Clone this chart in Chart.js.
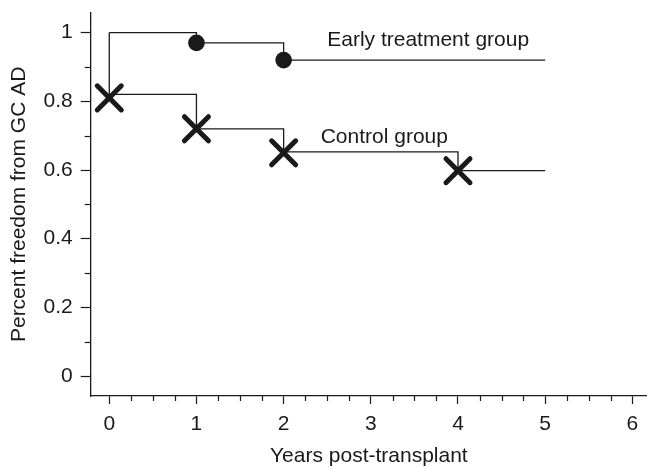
<!DOCTYPE html>
<html>
<head>
<meta charset="utf-8">
<script src="https://cdn.jsdelivr.net/npm/chart.js@4/dist/chart.umd.min.js"></script>
<style>
  html, body { margin: 0; padding: 0; background: #fff; overflow: hidden; }
  canvas { display: block; }
</style>
</head>
<body>
<canvas id="c" width="647" height="467" style="width:647px;height:467px"></canvas>
<script>
// ---- data ----
const earlyX = [0, 1, 2, 5];
const earlyY = [1.0, 0.97, 0.92, 0.92];
const earlyEventX = [1, 2];
const earlyEventY = [0.97, 0.92];

const controlX = [0, 0, 1, 2, 4, 5];
const controlY = [1.0, 0.82, 0.72, 0.653, 0.598, 0.598];
const controlEventX = [0, 1, 2, 4];
const controlEventY = [0.81, 0.72, 0.65, 0.598];

const xTickValues = [0, 1, 2, 3, 4, 5, 6];
const xTickLabels = ['0', '1', '2', '3', '4', '5', '6'];
const yTickValues = [0, 0.2, 0.4, 0.6, 0.8, 1];
const yTickLabels = ['0', '0.2', '0.4', '0.6', '0.8', '1'];
const xMinorTicks = [0.25, 0.5, 0.75, 1.25, 1.5, 1.75, 2.25, 2.5, 2.75, 3.25, 3.5, 3.75, 4.25, 4.5, 4.75, 5.25, 5.5, 5.75];
const yMinorTicks = [0.1, 0.3, 0.5, 0.7, 0.9];

const seriesNames = ['Early treatment group', 'Control group'];
const xTitle = 'Years post-transplant';
const yTitle = 'Percent freedom from GC AD';

// text annotations (data coordinates of label baseline-left)
const noteText = seriesNames;
const noteX = [2.5, 2.425];
const noteY = [0.962, 0.68];

const INK = '#1a1a1a';
const FONT = '"Liberation Sans", Arial, Helvetica, sans-serif';

const pts = (xs, ys) => xs.map((x, i) => ({ x: x, y: ys[i] }));

const extras = {
  id: 'extras',
  beforeDatasetsDraw(chart) {
    chart.ctx.lineCap = 'round';
  },
  afterDraw(chart) {
    const ctx = chart.ctx;
    const xs = chart.scales.x, ys = chart.scales.y;
    ctx.save();
    ctx.strokeStyle = INK;
    ctx.lineWidth = 1.2;
    ctx.lineCap = 'butt';
    xMinorTicks.forEach(v => {
      if (v < xs.min || v > xs.max) return;
      const px = Math.round(xs.getPixelForValue(v)) + 0.5;
      ctx.beginPath();
      ctx.moveTo(px, xs.top);
      ctx.lineTo(px, xs.top + 5);
      ctx.stroke();
    });
    yMinorTicks.forEach(v => {
      const py = Math.round(ys.getPixelForValue(v)) + 0.5;
      ctx.beginPath();
      ctx.moveTo(ys.right, py);
      ctx.lineTo(ys.right - 6, py);
      ctx.stroke();
    });
    ctx.fillStyle = INK;
    ctx.font = '21px ' + FONT;
    ctx.textAlign = 'left';
    ctx.textBaseline = 'alphabetic';
    noteText.forEach((t, i) => {
      ctx.fillText(t, xs.getPixelForValue(noteX[i]), ys.getPixelForValue(noteY[i]));
    });
    ctx.restore();
  }
};

const zeroPad = s => { s.paddingLeft = 0; s.paddingRight = 0; s.paddingTop = 0; s.paddingBottom = 0; };

new Chart(document.getElementById('c'), {
  type: 'scatter',
  data: {
    datasets: [
      {
        label: seriesNames[1] + ' events',
        data: pts(controlEventX, controlEventY),
        showLine: false,
        pointStyle: 'crossRot',
        pointRadius: 17,
        pointBorderWidth: 5,
        pointBorderColor: INK,
        pointBackgroundColor: INK,
        clip: false
      },
      {
        label: seriesNames[0] + ' events',
        data: pts(earlyEventX, earlyEventY),
        showLine: false,
        pointStyle: 'circle',
        pointRadius: 8.3,
        pointBorderWidth: 0,
        pointBackgroundColor: INK,
        pointBorderColor: INK,
        clip: false
      },
      {
        label: seriesNames[0],
        data: pts(earlyX, earlyY),
        showLine: true,
        stepped: 'before',
        borderColor: INK,
        borderWidth: 1.3,
        pointRadius: 0,
        fill: false,
        clip: false
      },
      {
        label: seriesNames[1],
        data: pts(controlX, controlY),
        showLine: true,
        stepped: 'before',
        borderColor: INK,
        borderWidth: 1.3,
        pointRadius: 0,
        fill: false,
        clip: false
      }
    ]
  },
  options: {
    responsive: false,
    animation: false,
    devicePixelRatio: 1,
    events: [],
    layout: { autoPadding: false, padding: { top: 12.7, right: 0, bottom: 0, left: 0 } },
    plugins: { legend: { display: false }, tooltip: { enabled: false } },
    scales: {
      x: {
        type: 'linear',
        min: -0.213,
        max: 6.168,
        afterBuildTicks: s => { s.ticks = xTickValues.map(v => ({ value: v })); },
        afterFit: s => { s.height = 71; zeroPad(s); },
        ticks: {
          color: INK,
          font: { family: FONT, size: 21, lineHeight: 1 },
          padding: 9.3,
          maxRotation: 0,
          autoSkip: false,
          callback: (v) => { const i = xTickValues.indexOf(v); return i >= 0 ? xTickLabels[i] : ''; }
        },
        grid: { display: true, drawOnChartArea: false, drawTicks: true, tickLength: 8, tickColor: INK, tickWidth: 1.2 },
        border: { display: true, color: INK, width: 1.3 },
        title: {
          display: true, text: xTitle, color: INK,
          font: { family: FONT, size: 21, lineHeight: 1 },
          padding: { top: 12, bottom: 0 }
        }
      },
      y: {
        type: 'linear',
        min: -0.058,
        max: 1.058,
        afterBuildTicks: s => { s.ticks = yTickValues.map(v => ({ value: v })); },
        afterFit: s => { s.width = 90.7; zeroPad(s); },
        ticks: {
          color: INK,
          font: { family: FONT, size: 21, lineHeight: 1 },
          padding: 8,
          autoSkip: false,
          callback: (v) => { const i = yTickValues.findIndex(t => Math.abs(t - v) < 1e-9); return i >= 0 ? yTickLabels[i] : ''; }
        },
        grid: { display: true, drawOnChartArea: false, drawTicks: true, tickLength: 10, tickColor: INK, tickWidth: 1.2 },
        border: { display: true, color: INK, width: 1.3 },
        title: {
          display: true, text: yTitle, color: INK,
          font: { family: FONT, size: 21, lineHeight: 1 },
          padding: { top: 8.5, bottom: 10 }
        }
      }
    }
  },
  plugins: [extras]
});
</script>
</body>
</html>
